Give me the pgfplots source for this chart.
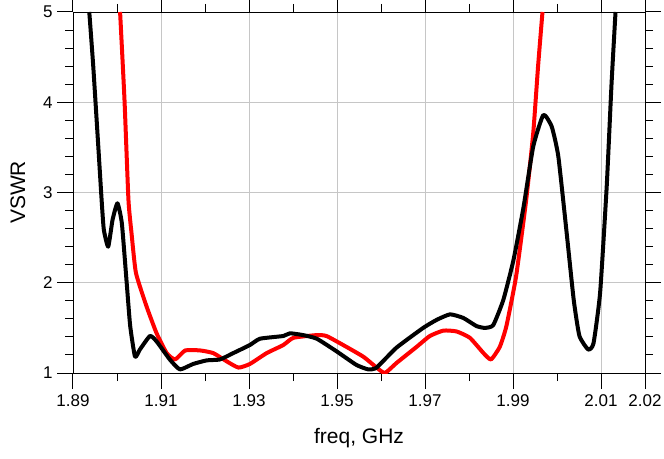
\documentclass[border=0pt]{standalone}
\usepackage{pgfplots}
\pgfplotsset{compat=1.18}
\usepackage{fontspec}
\setmainfont{Liberation Sans}
\begin{document}
\begin{tikzpicture}
\useasboundingbox (-73pt,-85pt) rectangle (591pt,373pt);
\begin{axis}[
  scale only axis,
  width=572pt, height=361pt,
  xmin=1.89, xmax=2.02, ymin=1, ymax=5,
  xtick={1.89,1.91,1.93,1.95,1.97,1.99,2.01,2.02},
  minor xtick={1.90,1.92,1.94,1.96,1.98,2.00},
  ytick={1,2,3,4,5},
  minor y tick num=4,
  xticklabel style={/pgf/number format/fixed,/pgf/number format/fixed zerofill,/pgf/number format/precision=2},
  /pgf/number format/assume math mode=true,
  tick align=outside,
  major tick length=16pt,
  minor tick length=8pt,
  every tick/.style={black, line width=1pt},
  xmajorgrids, ymajorgrids,
  major grid style={gray!45, line width=0.8pt},
  axis line style={black, line width=0.9pt},
  tick label style={font=\fontsize{17}{20}\selectfont},
  xticklabel style={yshift=-2pt},
  yticklabel style={xshift=-1pt},
  label style={font=\fontsize{21}{25}\selectfont},
  xlabel={freq, GHz},
  ylabel={VSWR},
  xlabel style={at={(axis description cs:0.5,0)}, anchor=center, yshift=-65pt},
  ylabel style={at={(axis description cs:0,0.5)}, anchor=center, yshift=55pt},
  clip=true,
]
\addplot[red, line width=4pt, line join=round, smooth, tension=0.3] coordinates {
(1.9007,5.0) (1.9017,4.03) (1.9026,2.92) (1.9033,2.55) (1.9043,2.11)
(1.9067,1.74) (1.9090,1.44) (1.9113,1.22) (1.9132,1.15) (1.9155,1.25)
(1.9189,1.25) (1.9219,1.22) (1.9249,1.13) (1.9276,1.06) (1.9302,1.10)
(1.9340,1.22) (1.9378,1.31) (1.9401,1.39) (1.9454,1.42) (1.9476,1.41)
(1.9514,1.31) (1.9560,1.18) (1.9590,1.06) (1.9609,1.00) (1.9635,1.11)
(1.9681,1.29) (1.9711,1.41) (1.9742,1.47) (1.9772,1.46) (1.9802,1.39)
(1.9833,1.22) (1.9850,1.15) (1.9870,1.29) (1.9885,1.52) (1.9907,2.07)
(1.9930,2.92) (1.9946,3.66) (1.9957,4.40) (1.9967,5.0)
};
\addplot[black, line width=4pt, line join=round, smooth, tension=0.3] coordinates {
(1.8937,5.0) (1.8946,4.40) (1.8958,3.47) (1.8965,2.92) (1.8970,2.59)
(1.8980,2.40) (1.8990,2.70) (1.9001,2.88) (1.9011,2.66) (1.9022,2.00)
(1.9030,1.52) (1.9041,1.18) (1.9052,1.26) (1.9075,1.41) (1.9090,1.35)
(1.9120,1.15) (1.9143,1.04) (1.9173,1.10) (1.9204,1.14) (1.9234,1.15)
(1.9264,1.22) (1.9302,1.31) (1.9325,1.38) (1.9378,1.41) (1.9393,1.44)
(1.9423,1.42) (1.9454,1.38) (1.9499,1.24) (1.9544,1.09) (1.9571,1.04)
(1.9590,1.06) (1.9635,1.28) (1.9696,1.50) (1.9727,1.59) (1.9757,1.65)
(1.9787,1.61) (1.9817,1.52) (1.9836,1.50) (1.9855,1.53) (1.9878,1.81)
(1.9901,2.25) (1.9924,2.84) (1.9946,3.51) (1.9969,3.86) (1.9988,3.73)
(2.0003,3.40) (2.0022,2.55) (2.0038,1.81) (2.0051,1.41) (2.0071,1.26)
(2.0083,1.33) (2.0098,1.89) (2.0113,3.07) (2.0124,4.21) (2.0133,5.0)
};
\end{axis}
\end{tikzpicture}
\end{document}
